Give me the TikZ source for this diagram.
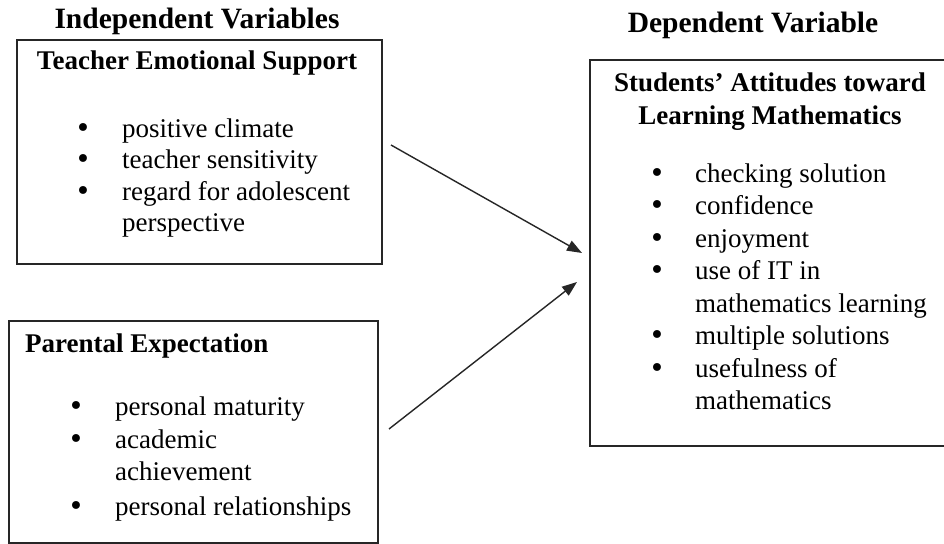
\documentclass[tikz,border=0pt]{standalone}
\usepackage{fontspec}
\setmainfont{Liberation Serif}
\newfontfamily\dotfont{DejaVu Sans}
\usetikzlibrary{arrows.meta}
\begin{document}
\begin{tikzpicture}[x=1pt,y=-1pt,
  frame/.style={draw=black!85,line width=1.8pt,inner sep=0pt,anchor=north west},
  title/.style={font=\fontsize{29.5}{34}\selectfont\bfseries,anchor=base,inner sep=0pt},
  head/.style={font=\fontsize{27}{32}\selectfont\bfseries,anchor=base,inner sep=0pt},
  item/.style={font=\fontsize{27}{32}\selectfont,anchor=base west,inner sep=0pt},
  dot/.style={font=\dotfont\fontsize{27}{32}\selectfont,anchor=base,inner sep=0pt},
  link/.style={draw=black!85,line width=1.4pt,-{Triangle[length=15pt,width=11pt]}}]
\path[use as bounding box,clip] (0,0) rectangle (944,543);
\fill[white] (0,0) rectangle (944,543);

% column titles
\node[title] (indep) at (197,29) {Independent Variables};
\node[title] (dep) at (753,33) {Dependent Variable};

% the three boxes
\node[frame,minimum width=365pt,minimum height=224pt] (tes) at (16,39) {};
\node[frame,minimum width=369pt,minimum height=222pt] (pe) at (8,320) {};
\node[frame,minimum width=380pt,minimum height=386pt] (sat) at (589,59) {};

% Teacher Emotional Support
\node[head] (tesh) at (197,70) {Teacher Emotional Support};
\node[dot] (tesb1) at (83,137) {•};
\node[item] (tes1) at (122,137) {positive climate};
\node[dot] (tesb2) at (83,168) {•};
\node[item] (tes2) at (122,168) {teacher sensitivity};
\node[dot] (tesb3) at (83,200) {•};
\node[item] (tes3) at (122,200) {regard for adolescent};
\node[item] (tes4) at (122,231) {perspective};

% Parental Expectation
\node[head,anchor=base west] (peh) at (25,352) {Parental Expectation};
\node[dot] (peb1) at (76,415) {•};
\node[item] (pe1) at (115,415) {personal maturity};
\node[dot] (peb2) at (76,448) {•};
\node[item] (pe2) at (115,448) {academic};
\node[item] (pe3) at (115,480) {achievement};
\node[dot] (peb3) at (76,515) {•};
\node[item] (pe4) at (115,515) {personal relationships};

% Students' attitudes
\node[head] (sath1) at (770,91) {Students’ Attitudes toward};
\node[head] (sath2) at (770,124) {Learning Mathematics};
\node[dot] (satb1) at (657,182) {•};
\node[item] (sat1) at (695,182) {checking solution};
\node[dot] (satb2) at (657,214.5) {•};
\node[item] (sat2) at (695,214.5) {confidence};
\node[dot] (satb3) at (657,247) {•};
\node[item] (sat3) at (695,247) {enjoyment};
\node[dot] (satb4) at (657,279.5) {•};
\node[item] (sat4) at (695,279.5) {use of IT in};
\node[item] (sat5) at (695,312) {mathematics learning};
\node[dot] (satb5) at (657,344.5) {•};
\node[item] (sat6) at (695,344.5) {multiple solutions};
\node[dot] (satb6) at (657,377) {•};
\node[item] (sat7) at (695,377) {usefulness of};
\node[item] (sat8) at (695,409.5) {mathematics};

% connectors
\coordinate (tesout) at (391,145);
\coordinate (satin1) at (582,253);
\coordinate (peout) at (389,429);
\coordinate (satin2) at (577,282);
\draw[link] (tesout) -- (satin1);
\draw[link] (peout) -- (satin2);
\end{tikzpicture}
\end{document}
